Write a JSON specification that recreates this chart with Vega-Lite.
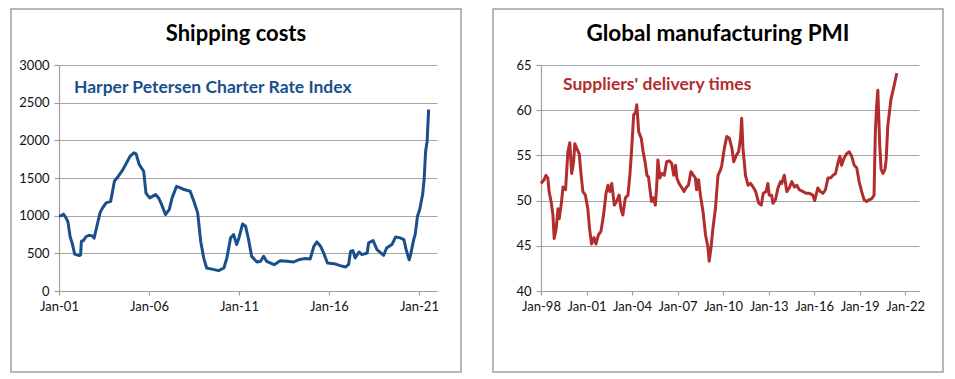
{
  "$schema": "https://vega.github.io/schema/vega-lite/v6.json",
  "autosize": {"type": "pad"},
  "padding": {"left": 10, "top": 8, "right": 0, "bottom": 0},
  "bounds": "flush",
  "spacing": 32,
  "background": "white",
  "config": {
    "font": "Lato",
    "view": {"stroke": "#A0A0A0", "strokeWidth": 1.5},
    "axis": {
      "labelFont": "Lato", "labelFontSize": 13, "labelColor": "#111111",
      "domainColor": "#A0A0A0", "tickColor": "#A0A0A0", "gridColor": "#A6A6A6",
      "gridWidth": 1.2, "domainWidth": 1.2, "tickWidth": 1.2, "title": null,
      "labelOverlap": false, "labelFlush": false
    }
  },
  "datasets": {
    "ship": [
      {"date": "2001-01-01", "v": 1000}, {"date": "2001-02-15", "v": 1000}, {"date": "2001-04-01", "v": 1020},
      {"date": "2001-05-15", "v": 980}, {"date": "2001-07-01", "v": 920}, {"date": "2001-08-15", "v": 720},
      {"date": "2001-10-01", "v": 620}, {"date": "2001-11-15", "v": 490}, {"date": "2002-01-01", "v": 480},
      {"date": "2002-02-15", "v": 470}, {"date": "2002-03-15", "v": 480}, {"date": "2002-04-01", "v": 660},
      {"date": "2002-05-15", "v": 670}, {"date": "2002-07-01", "v": 720}, {"date": "2002-09-01", "v": 740},
      {"date": "2002-11-15", "v": 730}, {"date": "2002-12-15", "v": 700}, {"date": "2003-02-01", "v": 840},
      {"date": "2003-04-15", "v": 1040}, {"date": "2003-06-01", "v": 1100}, {"date": "2003-08-15", "v": 1170},
      {"date": "2003-11-15", "v": 1190}, {"date": "2004-02-01", "v": 1460}, {"date": "2004-04-15", "v": 1520},
      {"date": "2004-07-01", "v": 1590}, {"date": "2004-09-15", "v": 1680}, {"date": "2004-12-15", "v": 1790},
      {"date": "2005-03-01", "v": 1834}, {"date": "2005-04-15", "v": 1820}, {"date": "2005-06-15", "v": 1680},
      {"date": "2005-09-15", "v": 1590}, {"date": "2005-11-01", "v": 1300}, {"date": "2006-01-15", "v": 1236},
      {"date": "2006-05-15", "v": 1280}, {"date": "2006-07-15", "v": 1236}, {"date": "2006-09-15", "v": 1147},
      {"date": "2006-12-01", "v": 1015}, {"date": "2007-02-15", "v": 1080}, {"date": "2007-04-15", "v": 1236},
      {"date": "2007-07-15", "v": 1390}, {"date": "2007-10-01", "v": 1370}, {"date": "2007-12-15", "v": 1347},
      {"date": "2008-04-15", "v": 1325}, {"date": "2008-07-01", "v": 1190}, {"date": "2008-09-15", "v": 1037},
      {"date": "2008-11-15", "v": 660}, {"date": "2009-01-15", "v": 440}, {"date": "2009-03-15", "v": 305},
      {"date": "2009-08-15", "v": 284}, {"date": "2009-11-15", "v": 270}, {"date": "2010-03-01", "v": 305},
      {"date": "2010-05-01", "v": 440}, {"date": "2010-07-15", "v": 705}, {"date": "2010-09-15", "v": 749},
      {"date": "2010-11-15", "v": 616}, {"date": "2011-01-01", "v": 705}, {"date": "2011-03-15", "v": 890},
      {"date": "2011-05-15", "v": 860}, {"date": "2011-07-15", "v": 682}, {"date": "2011-09-15", "v": 460},
      {"date": "2012-01-01", "v": 385}, {"date": "2012-03-15", "v": 394}, {"date": "2012-05-15", "v": 460},
      {"date": "2012-07-15", "v": 394}, {"date": "2012-12-15", "v": 350}, {"date": "2013-04-15", "v": 403},
      {"date": "2013-09-01", "v": 394}, {"date": "2014-01-15", "v": 385}, {"date": "2014-05-01", "v": 416},
      {"date": "2014-08-15", "v": 430}, {"date": "2014-12-15", "v": 425}, {"date": "2015-03-01", "v": 594},
      {"date": "2015-05-01", "v": 651}, {"date": "2015-07-15", "v": 594}, {"date": "2015-09-15", "v": 505},
      {"date": "2015-12-01", "v": 372}, {"date": "2016-04-15", "v": 363}, {"date": "2016-08-15", "v": 337},
      {"date": "2016-12-01", "v": 319}, {"date": "2017-02-01", "v": 350}, {"date": "2017-03-15", "v": 527},
      {"date": "2017-05-01", "v": 536}, {"date": "2017-06-15", "v": 439}, {"date": "2017-09-01", "v": 518},
      {"date": "2017-11-01", "v": 483}, {"date": "2018-02-15", "v": 505}, {"date": "2018-03-15", "v": 638},
      {"date": "2018-06-15", "v": 669}, {"date": "2018-09-01", "v": 549}, {"date": "2019-01-15", "v": 474},
      {"date": "2019-03-15", "v": 571}, {"date": "2019-07-01", "v": 616}, {"date": "2019-09-15", "v": 718},
      {"date": "2019-12-15", "v": 705}, {"date": "2020-03-01", "v": 682}, {"date": "2020-04-15", "v": 549},
      {"date": "2020-06-15", "v": 415}, {"date": "2020-07-15", "v": 483}, {"date": "2020-09-15", "v": 682},
      {"date": "2020-10-15", "v": 749}, {"date": "2020-12-01", "v": 992}, {"date": "2021-01-15", "v": 1081},
      {"date": "2021-03-15", "v": 1280}, {"date": "2021-04-15", "v": 1480}, {"date": "2021-05-15", "v": 1856},
      {"date": "2021-06-15", "v": 1989}, {"date": "2021-07-15", "v": 2410}
    ],
    "pmi": [
      {"date": "1998-01-01", "v": 51.9}, {"date": "1998-03-15", "v": 52.3}, {"date": "1998-05-01", "v": 52.8},
      {"date": "1998-06-15", "v": 52.5}, {"date": "1998-07-15", "v": 51.0}, {"date": "1998-09-01", "v": 49.9},
      {"date": "1998-10-15", "v": 48.4}, {"date": "1998-11-15", "v": 45.8}, {"date": "1999-01-01", "v": 46.9},
      {"date": "1999-02-15", "v": 49.1}, {"date": "1999-03-15", "v": 48.0}, {"date": "1999-05-01", "v": 49.5},
      {"date": "1999-06-15", "v": 51.5}, {"date": "1999-08-15", "v": 51.2}, {"date": "1999-10-10", "v": 55.4},
      {"date": "1999-11-25", "v": 56.4}, {"date": "2000-01-10", "v": 53.0}, {"date": "2000-02-25", "v": 54.3},
      {"date": "2000-03-25", "v": 56.3}, {"date": "2000-05-08", "v": 55.8}, {"date": "2000-07-08", "v": 55.2},
      {"date": "2000-08-25", "v": 52.8}, {"date": "2000-10-05", "v": 51.0}, {"date": "2000-12-05", "v": 50.6},
      {"date": "2001-02-01", "v": 49.1}, {"date": "2001-03-15", "v": 46.9}, {"date": "2001-05-01", "v": 45.2},
      {"date": "2001-07-01", "v": 45.9}, {"date": "2001-08-15", "v": 45.2}, {"date": "2001-10-15", "v": 46.2},
      {"date": "2001-12-15", "v": 46.6}, {"date": "2002-02-15", "v": 48.4}, {"date": "2002-04-15", "v": 50.8},
      {"date": "2002-06-01", "v": 51.7}, {"date": "2002-07-15", "v": 51.0}, {"date": "2002-09-01", "v": 51.9},
      {"date": "2002-11-01", "v": 49.5}, {"date": "2002-12-25", "v": 49.9}, {"date": "2003-02-25", "v": 50.6},
      {"date": "2003-04-10", "v": 49.1}, {"date": "2003-05-25", "v": 48.4}, {"date": "2003-07-25", "v": 50.3},
      {"date": "2003-09-25", "v": 50.6}, {"date": "2003-11-10", "v": 52.8}, {"date": "2003-12-25", "v": 55.8},
      {"date": "2004-02-10", "v": 59.5}, {"date": "2004-03-25", "v": 59.7}, {"date": "2004-04-25", "v": 60.6},
      {"date": "2004-06-10", "v": 57.6}, {"date": "2004-08-10", "v": 56.9}, {"date": "2004-09-25", "v": 55.4},
      {"date": "2004-11-10", "v": 54.3}, {"date": "2004-12-25", "v": 52.8}, {"date": "2005-02-01", "v": 52.6},
      {"date": "2005-03-15", "v": 51.0}, {"date": "2005-04-15", "v": 49.9}, {"date": "2005-06-01", "v": 50.3},
      {"date": "2005-07-15", "v": 49.5}, {"date": "2005-08-15", "v": 51.4}, {"date": "2005-09-15", "v": 54.5},
      {"date": "2005-11-01", "v": 52.5}, {"date": "2005-12-15", "v": 53.0}, {"date": "2006-02-15", "v": 52.8},
      {"date": "2006-04-15", "v": 54.3}, {"date": "2006-06-15", "v": 54.4}, {"date": "2006-08-15", "v": 54.1},
      {"date": "2006-10-01", "v": 52.8}, {"date": "2006-11-15", "v": 53.9}, {"date": "2006-12-15", "v": 52.5},
      {"date": "2007-02-05", "v": 51.9}, {"date": "2007-04-05", "v": 51.5}, {"date": "2007-06-05", "v": 51.0},
      {"date": "2007-08-05", "v": 51.5}, {"date": "2007-09-20", "v": 51.7}, {"date": "2007-11-20", "v": 53.2},
      {"date": "2008-01-20", "v": 52.8}, {"date": "2008-03-05", "v": 52.5}, {"date": "2008-04-05", "v": 51.2},
      {"date": "2008-05-20", "v": 52.3}, {"date": "2008-07-05", "v": 50.6}, {"date": "2008-09-05", "v": 48.8},
      {"date": "2008-11-05", "v": 46.2}, {"date": "2009-01-01", "v": 44.9}, {"date": "2009-02-01", "v": 43.3},
      {"date": "2009-03-15", "v": 44.7}, {"date": "2009-05-01", "v": 46.9}, {"date": "2009-07-01", "v": 49.1},
      {"date": "2009-09-01", "v": 52.8}, {"date": "2009-11-01", "v": 53.4}, {"date": "2009-12-01", "v": 53.9},
      {"date": "2010-02-01", "v": 55.8}, {"date": "2010-04-01", "v": 57.1}, {"date": "2010-06-01", "v": 56.9},
      {"date": "2010-08-01", "v": 55.8}, {"date": "2010-09-15", "v": 54.3}, {"date": "2010-11-15", "v": 55.0},
      {"date": "2011-01-10", "v": 55.4}, {"date": "2011-02-25", "v": 56.9}, {"date": "2011-03-25", "v": 59.1},
      {"date": "2011-04-25", "v": 55.8}, {"date": "2011-06-25", "v": 52.8}, {"date": "2011-08-25", "v": 51.7},
      {"date": "2011-10-25", "v": 51.9}, {"date": "2011-12-25", "v": 51.5}, {"date": "2012-02-25", "v": 51.0},
      {"date": "2012-05-10", "v": 49.7}, {"date": "2012-07-10", "v": 49.5}, {"date": "2012-08-25", "v": 50.8},
      {"date": "2012-11-01", "v": 51.0}, {"date": "2012-12-15", "v": 51.9}, {"date": "2013-01-15", "v": 50.6},
      {"date": "2013-03-15", "v": 50.6}, {"date": "2013-04-15", "v": 49.7}, {"date": "2013-06-15", "v": 50.1},
      {"date": "2013-08-15", "v": 51.4}, {"date": "2013-10-15", "v": 52.1}, {"date": "2013-11-15", "v": 51.9},
      {"date": "2014-01-15", "v": 52.8}, {"date": "2014-03-15", "v": 51.0}, {"date": "2014-05-15", "v": 51.4},
      {"date": "2014-07-15", "v": 52.1}, {"date": "2014-09-15", "v": 51.5}, {"date": "2014-11-10", "v": 51.7},
      {"date": "2015-01-10", "v": 51.2}, {"date": "2015-04-10", "v": 51.0}, {"date": "2015-06-25", "v": 50.8},
      {"date": "2015-09-10", "v": 50.8}, {"date": "2015-12-01", "v": 50.6}, {"date": "2016-01-15", "v": 50.0},
      {"date": "2016-04-01", "v": 51.4}, {"date": "2016-06-01", "v": 51.0}, {"date": "2016-08-01", "v": 50.8},
      {"date": "2016-10-01", "v": 51.2}, {"date": "2016-12-01", "v": 52.5}, {"date": "2017-02-01", "v": 52.5},
      {"date": "2017-04-01", "v": 52.8}, {"date": "2017-06-01", "v": 53.0}, {"date": "2017-07-25", "v": 54.1},
      {"date": "2017-09-15", "v": 54.9}, {"date": "2017-10-25", "v": 53.9}, {"date": "2017-12-25", "v": 54.7},
      {"date": "2018-02-25", "v": 55.2}, {"date": "2018-04-25", "v": 55.4}, {"date": "2018-06-25", "v": 54.9},
      {"date": "2018-08-25", "v": 53.9}, {"date": "2018-10-25", "v": 53.6}, {"date": "2018-12-20", "v": 52.1},
      {"date": "2019-02-20", "v": 51.0}, {"date": "2019-04-20", "v": 50.1}, {"date": "2019-06-20", "v": 49.9},
      {"date": "2019-08-20", "v": 50.1}, {"date": "2019-10-20", "v": 50.2}, {"date": "2019-12-15", "v": 50.6},
      {"date": "2020-01-15", "v": 57.6}, {"date": "2020-02-15", "v": 60.5}, {"date": "2020-03-15", "v": 62.2},
      {"date": "2020-05-01", "v": 56.0}, {"date": "2020-06-01", "v": 53.5}, {"date": "2020-07-15", "v": 53.0},
      {"date": "2020-09-01", "v": 53.4}, {"date": "2020-10-01", "v": 54.5}, {"date": "2020-11-10", "v": 58.3},
      {"date": "2021-01-25", "v": 61.2}, {"date": "2021-04-15", "v": 62.8}, {"date": "2021-06-15", "v": 64.1}
    ]
  },
  "hconcat": [
    {
      "width": 450, "height": 363,
      "title": {"text": "Shipping costs", "frame": "group", "anchor": "middle", "fontSize": 22, "fontWeight": "bold", "font": "Lato", "color": "#000000", "baseline": "alphabetic", "offset": -54},
      "layer": [
        {
          "data": {"name": "ship"},
          "mark": {"type": "line", "color": "#1B4F8C", "strokeWidth": 3, "strokeJoin": "round"},
          "encoding": {
            "x": {"field": "date", "type": "temporal",
              "scale": {"domain": ["2001-01-01", "2022-01-01"], "range": [48, 426]},
              "axis": {"offset": -81, "values": ["2001-01-01", "2006-01-01", "2011-01-01", "2016-01-01", "2021-01-01"], "format": "%b-%y", "grid": false, "tickSize": 4, "labelPadding": 5}},
            "y": {"field": "v", "type": "quantitative",
              "scale": {"domain": [0, 3000], "range": [282, 56], "nice": false},
              "axis": {"offset": -48, "values": [0, 500, 1000, 1500, 2000, 2500, 3000], "format": "d", "grid": true, "tickSize": 5, "labelPadding": 5}}
          }
        },
        {
          "data": {"values": [{"date": "2001-11-01", "v": 2694, "label": "Harper Petersen Charter Rate Index"}]},
          "mark": {"type": "text", "align": "left", "baseline": "middle", "fontSize": 17.5, "fontWeight": "bold", "font": "Lato", "color": "#1B4F8C"},
          "encoding": {
            "x": {"field": "date", "type": "temporal"},
            "y": {"field": "v", "type": "quantitative"},
            "text": {"field": "label"}
          }
        }
      ]
    },
    {
      "width": 450, "height": 363,
      "title": {"text": "Global manufacturing PMI", "frame": "group", "anchor": "middle", "fontSize": 22.5, "fontWeight": "bold", "font": "Lato", "color": "#000000", "baseline": "alphabetic", "offset": -54},
      "layer": [
        {
          "data": {"name": "pmi"},
          "mark": {"type": "line", "color": "#B22D2D", "strokeWidth": 3, "strokeJoin": "round"},
          "encoding": {
            "x": {"field": "date", "type": "temporal",
              "scale": {"domain": ["1998-01-01", "2022-12-01"], "range": [48, 426]},
              "axis": {"offset": -81, "values": ["1998-01-01", "2001-01-01", "2004-01-01", "2007-01-01", "2010-01-01", "2013-01-01", "2016-01-01", "2019-01-01", "2022-01-01"], "format": "%b-%y", "grid": false, "tickSize": 4, "labelPadding": 5}},
            "y": {"field": "v", "type": "quantitative",
              "scale": {"domain": [40, 65], "range": [282, 56], "nice": false, "zero": false},
              "axis": {"offset": -48, "values": [40, 45, 50, 55, 60, 65], "grid": true, "tickSize": 5, "labelPadding": 5}}
          }
        },
        {
          "data": {"values": [{"date": "1999-06-15", "v": 62.8, "label": "Suppliers' delivery times"}]},
          "mark": {"type": "text", "align": "left", "baseline": "middle", "fontSize": 17.5, "fontWeight": "bold", "font": "Lato", "color": "#B22D2D"},
          "encoding": {
            "x": {"field": "date", "type": "temporal"},
            "y": {"field": "v", "type": "quantitative"},
            "text": {"field": "label"}
          }
        }
      ]
    }
  ]
}
